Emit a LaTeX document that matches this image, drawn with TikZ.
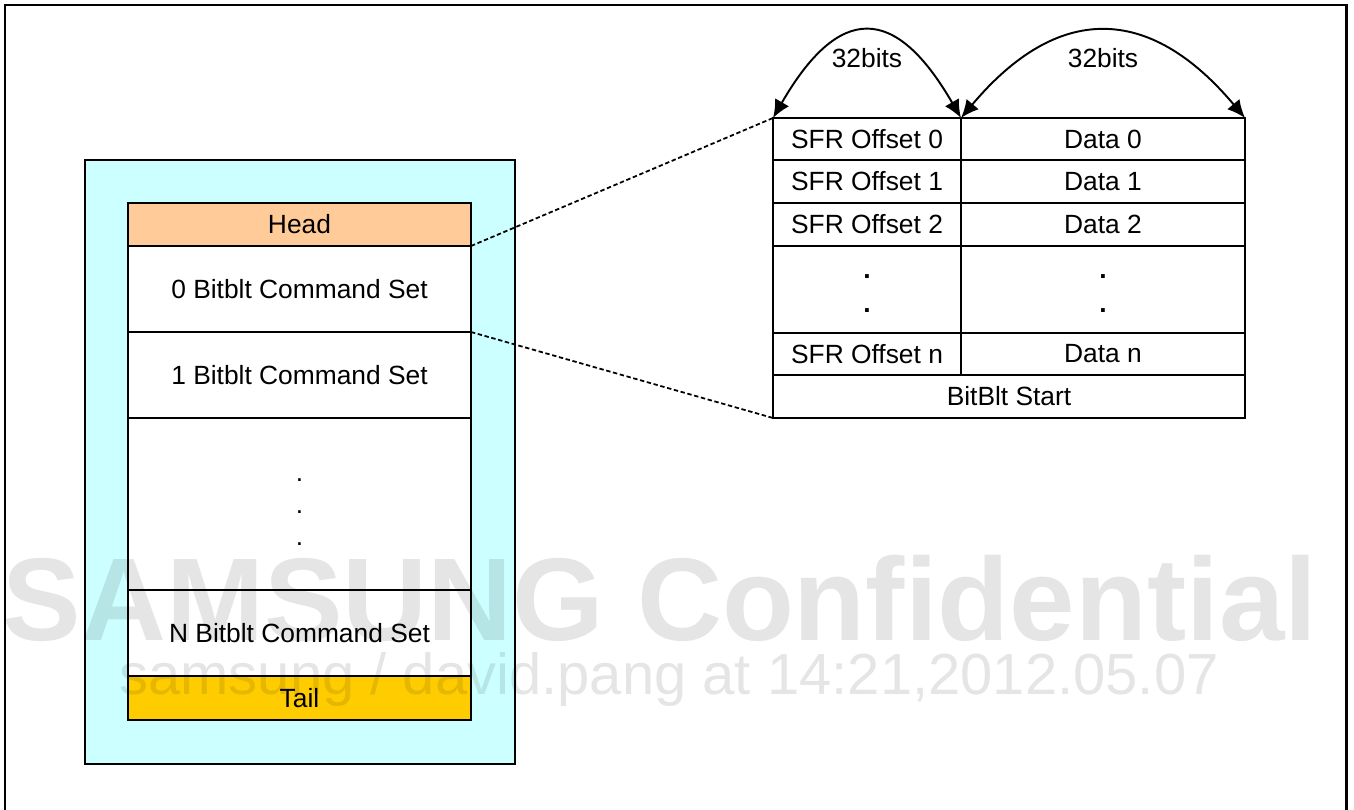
\documentclass[tikz,border=0pt]{standalone}
\usepackage{fontspec}
\setmainfont{Liberation Sans}
\usetikzlibrary{arrows.meta,positioning}
\definecolor{QueueBg}{HTML}{CCFFFF}
\definecolor{HeadFill}{HTML}{FFCC99}
\definecolor{TailFill}{HTML}{FFCC00}
\tikzset{
    every node/.style={font=\fontsize{15}{18}\selectfont},
    stackcell/.style={
        draw, line width=1.1pt, fill=white,
        minimum width=6.86cm, minimum height=#1,
        inner sep=0pt, outer sep=0pt
    },
    sfrcell/.style={
        draw, line width=1.1pt,
        minimum width=3.76cm, minimum height=#1,
        inner sep=0pt, outer sep=0pt
    },
    datacell/.style={
        draw, line width=1.1pt,
        minimum width=5.68cm, minimum height=#1,
        inner sep=0pt, outer sep=0pt
    },
    linkline/.style={
        line width=1pt, dash pattern=on 2.5pt off 1.5pt
    },
    widtharrow/.style={
        {Latex[length=3.6mm,width=3.2mm]}-{Latex[length=3.6mm,width=3.2mm]},
        line width=1.1pt
    },
    watermark/.style={
        text=black, text opacity=0.1, inner sep=0pt
    },
}

\begin{document}
\begin{tikzpicture}
    \useasboundingbox (0,0) rectangle (27.08,-16.2);

    % Page frame
    \draw[line width=1.7pt] (0.1,-16.6) -- (0.1,-0.1) -- (26.93,-0.1) -- (26.93,-16.6);

    % Command queue
    \node[draw, line width=1.1pt, fill=QueueBg, minimum width=8.6cm, minimum height=12.08cm,
          inner sep=0pt, outer sep=0pt, anchor=north west] (queue) at (1.7,-3.2) {};
    \node[stackcell=0.86cm, fill=HeadFill, anchor=north west] (head) at (2.56,-4.06) {Head};
    \node[stackcell=1.72cm, below=0pt of head] (set0) {0 Bitblt Command Set};
    \node[stackcell=1.72cm, below=0pt of set0] (set1) {1 Bitblt Command Set};
    \node[stackcell=3.44cm, below=0pt of set1] (gap) {};
    \node[stackcell=1.72cm, below=0pt of gap] (setN) {N Bitblt Command Set};
    \node[stackcell=0.88cm, fill=TailFill, below=0pt of setN] (tail) {Tail};
    \foreach \y [count=\i] in {-9.62,-10.26,-10.9}
        \node[anchor=base, inner sep=0pt] (gapdot\i) at (gap.center |- 0,\y) {.};

    % SFR table
    \node[sfrcell=0.84cm, anchor=north west] (off0) at (15.46,-2.36) {SFR Offset 0};
    \node[sfrcell=0.86cm, below=0pt of off0] (off1) {SFR Offset 1};
    \node[sfrcell=0.86cm, below=0pt of off1] (off2) {SFR Offset 2};
    \node[sfrcell=1.74cm, below=0pt of off2] (offgap) {};
    \node[sfrcell=0.84cm, below=0pt of offgap] (offn) {SFR Offset n};
    \node[datacell=0.84cm, right=0pt of off0] (data0) {Data 0};
    \node[datacell=0.86cm, right=0pt of off1] (data1) {Data 1};
    \node[datacell=0.86cm, right=0pt of off2] (data2) {Data 2};
    \node[datacell=1.74cm, right=0pt of offgap] (datagap) {};
    \node[datacell=0.84cm, right=0pt of offn] (datan) {Data n};
    \node[draw, line width=1.1pt, minimum width=9.44cm, minimum height=0.86cm,
          inner sep=0pt, outer sep=0pt, anchor=north west] (start) at (offn.south west) {BitBlt Start};
    \foreach \y [count=\i] in {-5.56,-6.24} {
        \node[anchor=base, inner sep=0pt, font=\fontsize{15}{18}\selectfont\bfseries] (offdot\i) at (offgap.center |- 0,\y) {.};
        \node[anchor=base, inner sep=0pt, font=\fontsize{15}{18}\selectfont\bfseries] (datadot\i) at (datagap.center |- 0,\y) {.};
    }

    % Zoom lines
    \draw[linkline] (head.south east) -- (off0.north west);
    \draw[linkline] (set0.south east) -- (start.south west);

    % Field widths
    \draw[widtharrow] (off0.north west) to[out=60, in=120, looseness=1.8]
        node[midway, below=0.18cm] (bitsL) {32bits} (off0.north east);
    \draw[widtharrow] (data0.north west) to[out=50, in=130, looseness=1.35]
        node[midway, below=0.18cm] (bitsR) {32bits} (data0.north east);

    % Watermark
    \node[watermark, anchor=base, font=\fontsize{67}{67}\selectfont\bfseries]
        (wmtitle) at (13.2,-12.8) {SAMSUNG Confidential};
    \node[watermark, anchor=base, font=\fontsize{33}{33}\selectfont]
        (wmuser) at (13.38,-13.88) {samsung / david.pang at 14:21,2012.05.07};
\end{tikzpicture}
\end{document}
